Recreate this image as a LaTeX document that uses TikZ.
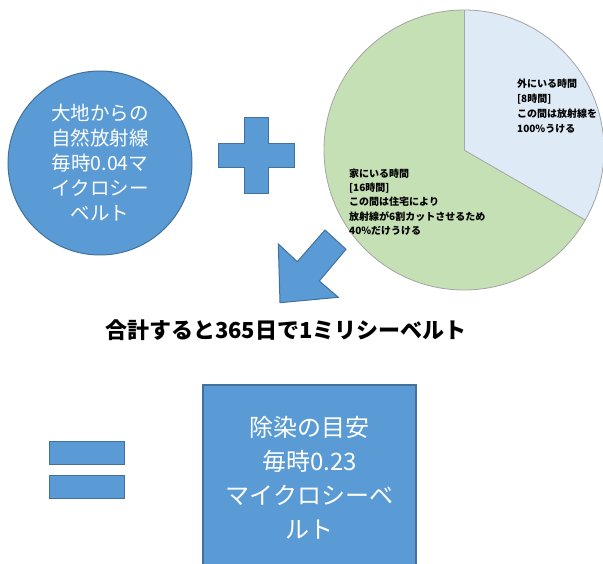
\documentclass[tikz,border=0pt]{standalone}
\usepackage{fontspec}
\setmainfont{Noto Sans CJK JP}
\definecolor{ob}{HTML}{5B9BD5}
\definecolor{obd}{HTML}{41719C}
\definecolor{pieblue}{HTML}{DEEBF7}
\definecolor{piegreen}{HTML}{C5E0B4}
\definecolor{piegray}{HTML}{A5A5A5}
\begin{document}
\begin{tikzpicture}[x=1pt,y=-1pt,
  bluefill/.style={fill=ob, draw=obd, line width=1pt},
  wtext/.style={text=white, align=center, inner sep=0pt},
  pietext/.style={anchor=west, align=left, inner sep=0pt, text=black},
  pieline/.style={draw=piegray, line width=0.8pt}]
\clip (0,0) rectangle (603,564);
\fill[white] (0,0) rectangle (603,564);

% source circle
\node[circle, bluefill, minimum size=184pt, wtext,
      font=\fontsize{19.5}{25}\selectfont] (src) at (100,163)
  {大地からの\\自然放射線\\毎時0.04マ\\イクロシー\\ベルト};

% plus sign
\draw[bluefill] (244,118) -- (268,118) -- (268,144) -- (294,144) -- (294,168)
  -- (268,168) -- (268,194) -- (244,194) -- (244,168) -- (218,168)
  -- (218,144) -- (244,144) -- cycle;

% pie chart
\coordinate (pc) at (464,150);
\fill[piegreen] (pc) circle[radius=140];
\fill[pieblue] (pc) -- ++(-90:140) arc[start angle=-90, end angle=30, radius=140] -- cycle;
\draw[pieline] (pc) circle[radius=140];
\draw[pieline] (pc) -- ++(-90:140);
\draw[pieline] (pc) -- ++(30:140);

\node[pietext, font=\bfseries\fontsize{10}{15}\selectfont] (outside) at (517,106)
  {外にいる時間\\{[}8時間{]}\\この間は放射線を\\100\%うける};
\node[pietext, font=\bfseries\fontsize{10}{14.3}\selectfont] (home) at (349,202)
  {家にいる時間\\{[}16時間{]}\\この間は住宅により\\放射線が6割カットさせるため\\40\%だけうける};

% arrow
\draw[bluefill] (280,302.7) -- (278.3,244) -- (297.3,261.7) -- (325,230)
  -- (346,249.3) -- (319.3,281) -- (338.3,297.3) -- cycle;

% caption
\node[font=\bfseries\fontsize{22}{26}\selectfont, inner sep=0pt] (total) at (286,330)
  {合計すると365日で1ミリシーベルト};

% equals
\draw[bluefill] (49,441) rectangle (124,464);
\draw[bluefill] (49,475) rectangle (124,498);

% goal box
\node[rectangle, bluefill, line width=1.6pt, minimum width=213pt, minimum height=186pt,
      wtext, font=\fontsize{24}{34}\selectfont] (goal) at (309.5,478)
  {除染の目安\\毎時0.23\\マイクロシーベ\\ルト};
\end{tikzpicture}
\end{document}
